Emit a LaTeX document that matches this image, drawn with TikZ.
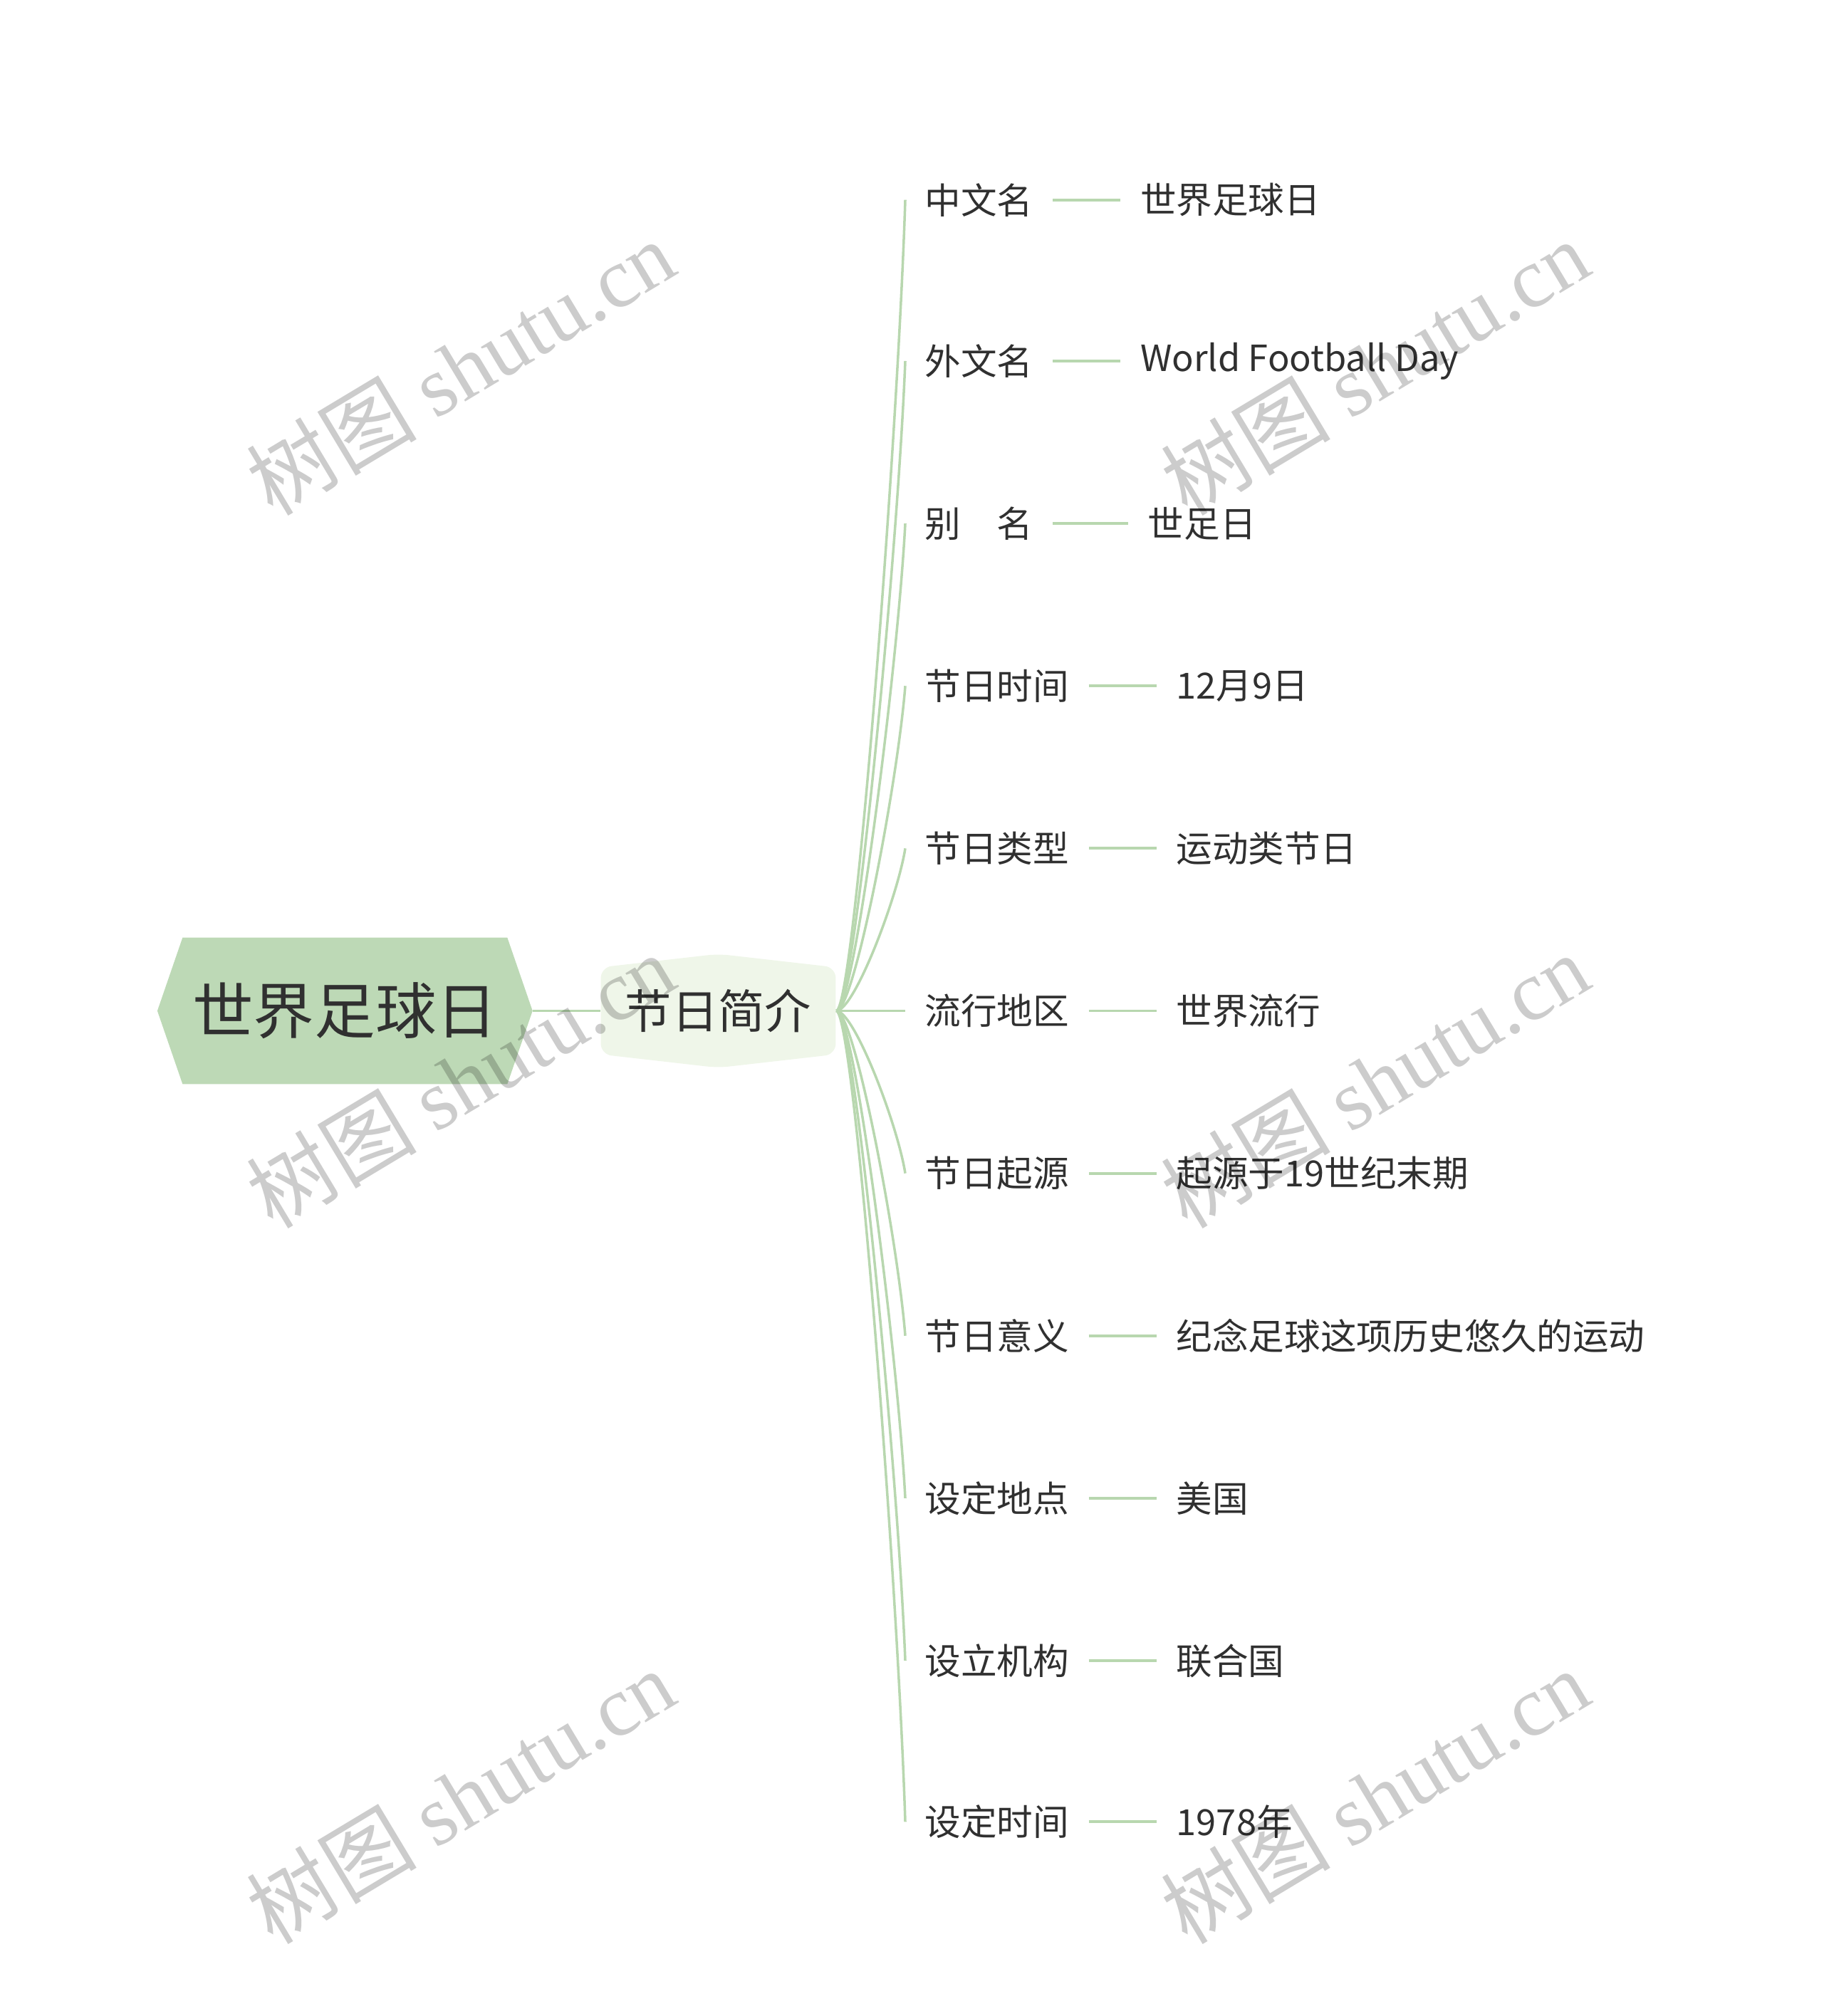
\documentclass[tikz,border=0pt]{standalone}
\usepackage{fontspec}
\setmainfont{Noto Sans CJK SC}
\newfontfamily\wmfont{Liberation Serif}
\usetikzlibrary{shapes.symbols}
\definecolor{rootgreen}{HTML}{BDD9B6}
\definecolor{introgreen}{HTML}{EFF6E9}
\definecolor{linegreen}{HTML}{B8D7AF}
\definecolor{txtgray}{HTML}{303030}

\begin{document}
\begin{tikzpicture}
  [x=0.018105cm,y=-0.018105cm,every node/.style={text=txtgray,inner sep=0pt},
   topic/.style={shape=signal,fill=rootgreen,signal to=west and east,signal pointer angle=142,
     minimum width=5.27cm,minimum height=2.06cm,font=\fontsize{24.4}{28}\selectfont},
   sub/.style={shape=signal,fill=introgreen,signal to=north and south,signal pointer angle=167,
     rounded corners=0.15cm,minimum width=3.3cm,minimum height=1.52cm,font=\fontsize{18.6}{22}\selectfont},
   leaf/.style={anchor=west,inner xsep=0.27cm,font=\fontsize{14.4}{17}\selectfont},
   conn/.style={draw=linegreen,line width=1pt},
   wm/.style={text=black,text opacity=0.2,rotate=31,font=\fontsize{34}{38}\selectfont}]
  \useasboundingbox (0,0) rectangle (1414,1563.6);

  \node[topic] (root) at (267.5,784) {世界足球日};
  \node[sub] (intro) at (557,784) {节日简介};

  \node[leaf] (k1) at (702,155) {中文名};
  \node[leaf] (k2) at (702,280) {外文名};
  \node[leaf] (k3) at (702,406) {别　名};
  \node[leaf] (k4) at (702,532) {节日时间};
  \node[leaf] (k5) at (702,658) {节日类型};
  \node[leaf] (k6) at (702,784) {流行地区};
  \node[leaf] (k7) at (702,910) {节日起源};
  \node[leaf] (k8) at (702,1036) {节日意义};
  \node[leaf] (k9) at (702,1162) {设定地点};
  \node[leaf] (k10) at (702,1288) {设立机构};
  \node[leaf] (k11) at (702,1413) {设定时间};

  \node[leaf] (v1) at (869,155) {世界足球日};
  \node[leaf] (v2) at (869,280) {World Football Day};
  \node[leaf] (v3) at (875,406) {世足日};
  \node[leaf] (v4) at (897,532) {12月9日};
  \node[leaf] (v5) at (897,658) {运动类节日};
  \node[leaf] (v6) at (897,784) {世界流行};
  \node[leaf] (v7) at (897,910) {起源于19世纪末期};
  \node[leaf] (v8) at (897,1036) {纪念足球这项历史悠久的运动};
  \node[leaf] (v9) at (897,1162) {美国};
  \node[leaf] (v10) at (897,1288) {联合国};
  \node[leaf] (v11) at (897,1413) {1978年};

  \draw[conn] (root.east) -- (intro.west);
  \foreach \to/\y in {k1/155,k2/280,k3/406,k4/532,k5/658,k6/784,k7/910,k8/1036,k9/1162,k10/1288,k11/1413}
    \draw[conn] (intro.east) .. controls +(14,0) and +(-6,{0.3*(784-\y)}) .. (\to.west);
  \foreach \from/\to in {k1/v1,k2/v2,k3/v3,k4/v4,k5/v5,k6/v6,k7/v7,k8/v8,k9/v9,k10/v10,k11/v11}
    \draw[conn,line width=1.1pt] (\from.east) -- (\to.west);

  \node[wm] (w1) at (357,285) {树图 {\wmfont shutu.cn}};
  \node[wm] (w2) at (1066,285) {树图 {\wmfont shutu.cn}};
  \node[wm] (w3) at (357,838) {树图 {\wmfont shutu.cn}};
  \node[wm] (w4) at (1066,838) {树图 {\wmfont shutu.cn}};
  \node[wm] (w5) at (357,1393) {树图 {\wmfont shutu.cn}};
  \node[wm] (w6) at (1066,1393) {树图 {\wmfont shutu.cn}};
\end{tikzpicture}
\end{document}
